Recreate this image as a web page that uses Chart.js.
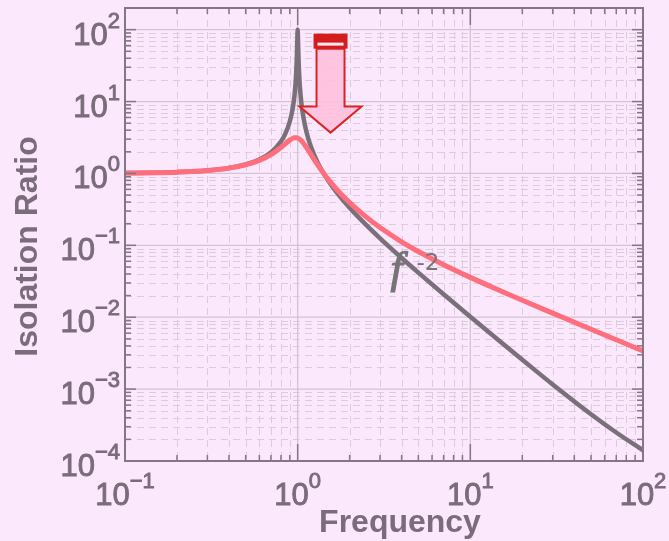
<!DOCTYPE html>
<html>
<head>
<meta charset="utf-8">
<script src="https://cdn.jsdelivr.net/npm/chart.js@4.4.0/dist/chart.umd.min.js"></script>
<style>
  html, body { margin: 0; padding: 0; background: rgb(252,232,252); }
  canvas { display: block; }
</style>
</head>
<body>
<canvas id="chart" width="669" height="541"></canvas>
<script>
// Frequency samples (denser around the resonance at f = 1)
const frequency = [0.1, 0.15, 0.2, 0.3, 0.4, 0.5, 0.6, 0.7, 0.8, 0.85, 0.9, 0.93, 0.95, 0.96, 0.97, 0.98, 0.985, 0.99, 0.995,
  1.0, 1.005, 1.01, 1.015, 1.02, 1.03, 1.05, 1.07, 1.1, 1.15, 1.2, 1.3, 1.4, 1.5, 1.7, 2, 2.5, 3, 4, 5, 7, 10, 15, 20, 30, 50, 70, 100];

// Lightly damped isolator: sharp resonance, rolls off as f^-2
const lightlyDamped = [1.010, 1.023, 1.042, 1.099, 1.190, 1.333, 1.563, 1.961, 2.778, 3.604, 5.263, 7.38, 10.21, 12.66, 16.70, 24.5, 31.9, 45.0, 71.0,
  100, 70.4, 44.5, 31.4, 24.0, 16.19, 9.71, 6.88, 4.76, 3.10, 2.273, 1.449, 1.042, 0.800, 0.529, 0.3333, 0.1905, 0.125, 0.0667, 0.0417, 0.0209,
  0.01015, 0.00451, 0.00256, 0.00116, 0.000447, 0.000249, 0.000141];

// Heavily damped isolator: low peak, slower high-frequency roll-off
const heavilyDamped = [1.010, 1.023, 1.042, 1.098, 1.186, 1.319, 1.519, 1.827, 2.297, 2.598, 2.903, 3.050, 3.115, 3.134, 3.143, 3.141, 3.137, 3.129, 3.119,
  3.107, 3.091, 3.074, 3.054, 3.032, 2.981, 2.859, 2.717, 2.489, 2.118, 1.800, 1.334, 1.034, 0.832, 0.584, 0.393, 0.247, 0.177, 0.112, 0.0820, 0.0537,
  0.0358, 0.0232, 0.0172, 0.0114, 0.00681, 0.00486, 0.00340];

// Decade exponents that get "10^n" tick labels
const xTickExponents = [-1, 0, 1, 2];
const yTickExponents = [-4, -3, -2, -1, 0, 1, 2];
const minorMultiples = [2, 3, 4, 5, 6, 7, 8, 9];

const xTitle = 'Frequency';
const yTitle = 'Isolation Ratio';

// Slope note and damping arrow, anchored in data coordinates
const slopeNote = { x: 3.4, y: 0.03, base: 'f', power: '-2' };
const dampingArrow = { x: 1.55, top: 88, tip: 3.7 };

const BACKGROUND = 'rgb(252,232,252)';
const FRAME = 'rgb(132,118,132)';
const LABEL = 'rgb(122,108,122)';
const SANS = '"Liberation Sans", Arial, sans-serif';

function decadeValues(exps, min, max) {
  const major = [], minor = [];
  exps.forEach(e => {
    const p = Math.pow(10, e);
    if (p > min * 1.0001 && p < max * 0.9999) major.push(p);
    minorMultiples.forEach(k => {
      const v = k * p;
      if (v > min * 1.0001 && v < max * 0.9999) minor.push(v);
    });
  });
  return { major, minor };
}

// "10" with a raised exponent, slightly emboldened by a thin outline
function powerLabel(ctx, exp, x, baseline, align) {
  const base = '10';
  const sup = exp < 0 ? '\u2212' + (-exp) : String(exp);
  ctx.font = '31px ' + SANS;
  const bw = ctx.measureText(base).width;
  ctx.font = '22px ' + SANS;
  const sw = ctx.measureText(sup).width;
  const total = bw + sw;
  const left = align === 'center' ? x - total / 2 : x - total;
  ctx.textAlign = 'left';
  ctx.textBaseline = 'alphabetic';
  ctx.lineWidth = 0.9;
  ctx.strokeStyle = ctx.fillStyle;
  ctx.font = '31px ' + SANS;
  ctx.fillText(base, left, baseline);
  ctx.strokeText(base, left, baseline);
  ctx.font = '22px ' + SANS;
  ctx.fillText(sup, left + bw, baseline - 17);
  ctx.strokeText(sup, left + bw, baseline - 17);
}

const decorations = {
  id: 'decorations',
  beforeDraw(chart) {
    const { ctx, width, height } = chart;
    ctx.save();
    ctx.fillStyle = BACKGROUND;
    ctx.fillRect(0, 0, width, height);
    ctx.restore();
  },
  beforeDatasetsDraw(chart) {
    const { ctx, chartArea: a, scales: { x, y } } = chart;
    const xv = decadeValues(xTickExponents, x.min, x.max);
    const yv = decadeValues(yTickExponents, y.min, y.max);
    ctx.save();
    ctx.beginPath();
    ctx.rect(a.left, a.top, a.right - a.left, a.bottom - a.top);
    ctx.clip();
    // dashed minor grid
    ctx.strokeStyle = 'rgb(218,204,218)';
    ctx.lineWidth = 1;
    ctx.setLineDash([7, 5]);
    xv.minor.forEach(v => {
      const px = Math.round(x.getPixelForValue(v)) + 0.5;
      ctx.beginPath(); ctx.moveTo(px, a.top); ctx.lineTo(px, a.bottom); ctx.stroke();
    });
    yv.minor.forEach(v => {
      const py = Math.round(y.getPixelForValue(v)) + 0.5;
      ctx.beginPath(); ctx.moveTo(a.left, py); ctx.lineTo(a.right, py); ctx.stroke();
    });
    // solid decade grid
    ctx.setLineDash([]);
    ctx.strokeStyle = 'rgb(210,196,210)';
    ctx.lineWidth = 1.3;
    xv.major.forEach(v => {
      const px = x.getPixelForValue(v);
      ctx.beginPath(); ctx.moveTo(px, a.top); ctx.lineTo(px, a.bottom); ctx.stroke();
    });
    yv.major.forEach(v => {
      const py = y.getPixelForValue(v);
      ctx.beginPath(); ctx.moveTo(a.left, py); ctx.lineTo(a.right, py); ctx.stroke();
    });
    ctx.restore();
  },
  afterDatasetsDraw(chart) {
    const { ctx, chartArea: a, scales: { x, y } } = chart;
    const xv = decadeValues(xTickExponents, x.min, x.max);
    const yv = decadeValues(yTickExponents, y.min, y.max);
    ctx.save();

    // damping arrow
    const ax = x.getPixelForValue(dampingArrow.x);
    const aTop = y.getPixelForValue(dampingArrow.top);
    const aTip = y.getPixelForValue(dampingArrow.tip);
    const barH = 15, barHalf = 17, shaftHalf = 14, headHalf = 31, headLen = 26;
    const shaftTop = aTop + barH, headBase = aTip - headLen;
    ctx.beginPath();
    ctx.moveTo(ax - shaftHalf, shaftTop);
    ctx.lineTo(ax - shaftHalf, headBase);
    ctx.lineTo(ax - headHalf, headBase);
    ctx.lineTo(ax, aTip);
    ctx.lineTo(ax + headHalf, headBase);
    ctx.lineTo(ax + shaftHalf, headBase);
    ctx.lineTo(ax + shaftHalf, shaftTop);
    ctx.closePath();
    ctx.fillStyle = 'rgba(255,190,218,0.85)';
    ctx.fill();
    ctx.strokeStyle = 'rgb(218,36,36)';
    ctx.lineWidth = 2;
    ctx.lineJoin = 'miter';
    ctx.stroke();
    ctx.fillStyle = 'rgb(212,28,28)';
    ctx.fillRect(ax - barHalf, aTop, barHalf * 2, barH);
    ctx.fillStyle = 'rgb(255,232,240)';
    ctx.fillRect(ax - barHalf + 4, aTop + 9, barHalf * 2 - 8, 3);

    // slope note
    const nx = x.getPixelForValue(slopeNote.x);
    const ny = y.getPixelForValue(slopeNote.y);
    ctx.fillStyle = 'rgb(118,116,118)';
    ctx.strokeStyle = 'rgb(118,116,118)';
    ctx.textAlign = 'left';
    ctx.textBaseline = 'alphabetic';
    ctx.font = 'italic 44px "Liberation Serif", "Times New Roman", serif';
    ctx.lineWidth = 1.2;
    ctx.fillText(slopeNote.base, nx + 1, ny);
    ctx.strokeText(slopeNote.base, nx + 1, ny);
    ctx.font = '23px "DejaVu Sans", sans-serif';
    ctx.fillText(slopeNote.power, nx + 27, ny - 13);

    // frame
    ctx.strokeStyle = FRAME;
    ctx.lineWidth = 2;
    ctx.strokeRect(a.left, a.top, a.right - a.left, a.bottom - a.top);

    // inward ticks on all four sides
    ctx.lineWidth = 1.5;
    const xTick = (v, len) => {
      const px = x.getPixelForValue(v);
      ctx.beginPath(); ctx.moveTo(px, a.bottom); ctx.lineTo(px, a.bottom - len); ctx.stroke();
      ctx.beginPath(); ctx.moveTo(px, a.top); ctx.lineTo(px, a.top + len); ctx.stroke();
    };
    const yTick = (v, len) => {
      const py = y.getPixelForValue(v);
      ctx.beginPath(); ctx.moveTo(a.left, py); ctx.lineTo(a.left + len, py); ctx.stroke();
      ctx.beginPath(); ctx.moveTo(a.right, py); ctx.lineTo(a.right - len, py); ctx.stroke();
    };
    xv.minor.forEach(v => xTick(v, 6));
    xv.major.forEach(v => xTick(v, 17));
    yv.minor.forEach(v => yTick(v, 6));
    yv.major.forEach(v => yTick(v, 11));

    // tick labels
    ctx.fillStyle = LABEL;
    xTickExponents.forEach(e => {
      powerLabel(ctx, e, x.getPixelForValue(Math.pow(10, e)), a.bottom + 44, 'center');
    });
    yTickExponents.forEach(e => {
      powerLabel(ctx, e, a.left - 5, y.getPixelForValue(Math.pow(10, e)) + 15, 'right');
    });

    // axis titles
    ctx.font = 'bold 32px ' + SANS;
    ctx.textAlign = 'center';
    ctx.textBaseline = 'alphabetic';
    ctx.fillText(xTitle, (a.left + a.right) / 2 + 16, a.bottom + 71);
    ctx.translate(37, (a.top + a.bottom) / 2 + 12);
    ctx.rotate(-Math.PI / 2);
    ctx.fillText(yTitle, 0, 0);
    ctx.restore();
  }
};

const points = values => frequency.map((f, i) => ({ x: f, y: values[i] }));

new Chart(document.getElementById('chart'), {
  type: 'line',
  data: {
    datasets: [
      {
        label: 'Heavily damped',
        data: points(heavilyDamped),
        borderColor: 'rgb(255,110,125)',
        borderWidth: 5,
        cubicInterpolationMode: 'monotone',
        borderCapStyle: 'round',
        borderJoinStyle: 'round',
        order: 0
      },
      {
        label: 'Lightly damped',
        data: points(lightlyDamped),
        borderColor: 'rgb(122,112,122)',
        borderWidth: 4.5,
        cubicInterpolationMode: 'monotone',
        borderCapStyle: 'round',
        borderJoinStyle: 'round',
        order: 1
      }
    ]
  },
  options: {
    responsive: false,
    animation: false,
    devicePixelRatio: 1,
    layout: { padding: { left: 0, right: 26, top: 8, bottom: 0 } },
    elements: { point: { radius: 0 } },
    plugins: { legend: { display: false }, tooltip: { enabled: false } },
    scales: {
      x: {
        type: 'logarithmic', min: 0.1, max: 100,
        grid: { display: false }, border: { display: false }, ticks: { display: false },
        afterFit(scale) { scale.height = 80; }
      },
      y: {
        type: 'logarithmic', min: 1e-4, max: 200,
        grid: { display: false }, border: { display: false }, ticks: { display: false },
        afterFit(scale) { scale.width = 125; }
      }
    }
  },
  plugins: [decorations]
});
</script>
</body>
</html>
